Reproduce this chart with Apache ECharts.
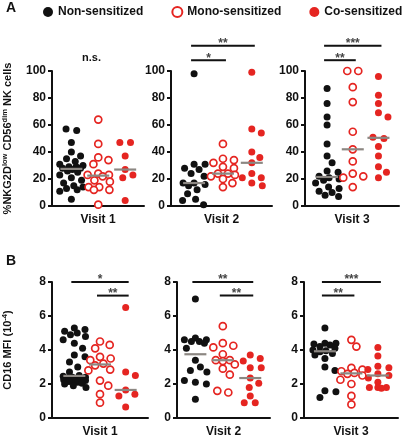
<!DOCTYPE html>
<html><head><meta charset="utf-8">
<script src="https://cdn.jsdelivr.net/npm/echarts@6/dist/echarts.min.js"></script>
<style>html,body{margin:0;padding:0;background:#fff}#c{width:408px;height:440px}</style>
</head><body><div id="c"></div>
<script>
// ---------- data ----------
const visits = ['Visit 1', 'Visit 2', 'Visit 3'];
const groupNames = ['Non-sensitized', 'Mono-sensitized', 'Co-sensitized'];
const ticksA = [0, 20, 40, 60, 80, 100];
const ticksB = [0, 2, 4, 6, 8];

// Panel A: %NKG2D(low) CD56(dim) NK cells, per visit
const nkgNon = [
  [57, 56, 47, 40, 37, 35, 33, 31, 30, 29, 29, 28, 28, 27, 26, 25, 23, 21, 19, 17, 15, 14, 13, 12, 11, 5],
  [98, 31, 31, 28, 27, 24, 22, 17, 17, 16, 15, 12, 9, 5, 4, 1],
  [87, 76, 66, 60, 46, 37, 32, 26, 25, 22, 21, 20, 19, 17, 14, 13, 11, 10, 8, 7]
];
const nkgMono = [
  [64, 46, 36, 34, 31, 24, 23, 23, 22, 19, 18, 14, 14, 12, 12, 1],
  [46, 35, 34, 32, 29, 28, 24, 24, 23, 22, 20, 17, 14],
  [100, 100, 88, 77, 55, 42, 33, 24, 22, 21, 14]
];
const nkgCo = [
  [47, 47, 37, 27, 23, 21, 4],
  [99, 57, 54, 40, 36, 32, 24, 21, 21, 17, 15],
  [96, 82, 76, 69, 66, 51, 50, 44, 37, 29, 25, 21]
];
// Panel B: CD16 MFI (10^-4), per visit
const cd16Non = [
  [5.3, 5.2, 5.1, 5.0, 4.9, 4.8, 4.6, 4.4, 4.1, 3.7, 3.6, 3.3, 3.0, 2.7, 2.5, 2.45, 2.4, 2.4, 2.35, 2.3, 2.3, 2.25, 2.2, 2.2, 2.15, 2.1, 2.05, 2.0, 1.9, 1.8],
  [7.0, 4.7, 4.6, 4.6, 4.5, 4.5, 4.4, 4.1, 3.4, 3.0, 2.8, 2.7, 2.2, 2.1, 2.0, 1.1],
  [5.3, 4.4, 4.4, 4.35, 4.3, 4.2, 4.1, 4.0, 3.95, 3.9, 3.8, 3.7, 3.5, 3.0, 2.8, 1.6, 1.55, 1.2]
];
const cd16Mono = [
  [4.5, 4.3, 4.1, 3.6, 3.5, 3.4, 3.2, 3.1, 2.85, 2.8, 2.2, 1.9, 1.4, 0.9],
  [5.4, 4.4, 4.25, 4.15, 3.75, 3.4, 3.4, 3.35, 3.15, 2.9, 2.55, 1.6, 1.5],
  [4.6, 4.2, 2.95, 2.85, 2.75, 2.65, 2.6, 2.5, 2.25, 2.0, 1.3, 0.8]
];
const cd16Co = [
  [6.5, 2.7, 2.5, 1.65, 1.4, 1.3, 0.65],
  [3.7, 3.5, 3.35, 2.95, 2.95, 2.35, 2.05, 1.8, 1.3, 0.9, 0.9],
  [4.15, 3.65, 3.05, 2.95, 2.85, 2.6, 2.5, 2.35, 2.1, 1.8, 1.8, 1.8, 1.75]
];
// significance brackets: [group from, group to, label]
const sigA = [[], [[0, 1, '*'], [0, 2, '**']], [[0, 1, '**'], [0, 2, '***']]];
const nsA = ['n.s.', '', ''];
const sigB = [[[0, 2, '*'], [1, 2, '**']], [[0, 2, '**'], [1, 2, '**']], [[0, 2, '***'], [0, 1, '**']]];

// ---------- layout / style ----------
const FONT = "'Liberation Sans', Arial, sans-serif";
const RED = '#e52521';
const BLACK = '#111111';
const GRAY = '#8c8782';
const panels = [
  { left: 49, top: 71, width: 95, height: 135, xr: [0.28, 3.7] },
  { left: 171, top: 71, width: 101, height: 135, xr: [0.2, 3.7] },
  { left: 305, top: 71, width: 94, height: 135, xr: [0.14, 3.8] },
  { left: 49, top: 282, width: 99, height: 136, xr: [0.13, 3.87] },
  { left: 177, top: 282, width: 93, height: 136, xr: [0.33, 3.72] },
  { left: 304, top: 282, width: 94, height: 136, xr: [0.21, 3.76] }
];
const rows = [
  { sets: [nkgNon, nkgMono, nkgCo], ticks: ticksA, sig: sigA, levels: [108, 118.7],
    yName: '{a|%NKG2D}{s|low}{a| CD56}{s|dim}{a| NK cells}' },
  { sets: [cd16Non, cd16Mono, cd16Co], ticks: ticksB, sig: sigB, levels: [7.2, 8.0],
    yName: '{a|CD16 MFI (10}{s|-4}{a|)}' }
];

function median(a) {
  const s = a.slice().sort((x, y) => x - y);
  const n = s.length;
  return n % 2 ? s[(n - 1) / 2] : (s[n / 2 - 1] + s[n / 2]) / 2;
}
// deterministic beeswarm offsets (in x data units); elliptical spacing, limited half-width
function swarm(vals, pxPerX, pxPerY, ax, ay, maxOff) {
  const order = vals.map((v, i) => i).sort((a, b) => vals[b] - vals[a]);
  const placed = [];
  for (const i of order) {
    const py = vals[i] * pxPerY;
    let chosen = null, bestD = -1, bestO = 0;
    for (let k = 0; ; k++) {
      const m = Math.ceil(k / 2) * 0.5;
      if (m > maxOff) break;
      const o = (k % 2 === 1) ? m : -m;
      let dmin = Infinity;
      for (const p of placed) dmin = Math.min(dmin, Math.hypot((p.x - o) / ax, (p.y - py) / ay));
      if (dmin >= 1) { chosen = o; break; }
      if (dmin > bestD + 0.05) { bestD = dmin; bestO = o; }
    }
    if (chosen === null) chosen = bestO;
    placed.push({ i: i, x: chosen, y: py });
  }
  // recentre isolated rows of (nearly) equal values
  let s = 0;
  while (s < placed.length) {
    let e = s;
    while (e + 1 < placed.length && placed[e].y - placed[e + 1].y < 2) e++;
    if (e > s) {
      const top = placed[s].y, bot = placed[e].y;
      const crowded = placed.some((p, j) => (j < s || j > e) && p.y < top + ay && p.y > bot - ay);
      if (!crowded) {
        const n = e - s + 1;
        for (let j = s; j <= e; j++) placed[j].x = (j - s - (n - 1) / 2) * ax;
      }
    }
    s = e + 1;
  }
  const offs = new Array(vals.length).fill(0);
  placed.forEach(p => { offs[p.i] = p.x / pxPerX; });
  return offs;
}

const grids = [], xAxes = [], yAxes = [], series = [];
panels.forEach((p, pi) => {
  const r = Math.floor(pi / 3), c = pi % 3;
  const row = rows[r];
  const ticks = row.ticks;
  const yMin = ticks[0], yMax = ticks[ticks.length - 1];
  grids.push({ left: p.left, top: p.top, width: p.width, height: p.height, containLabel: false });
  xAxes.push({
    gridIndex: pi, type: 'value', min: p.xr[0], max: p.xr[1],
    name: visits[c], nameLocation: 'middle', nameGap: 8,
    nameTextStyle: { fontFamily: FONT, fontWeight: 'bold', fontSize: 12, color: BLACK, verticalAlign: 'top' },
    axisLine: { show: true, onZero: false, lineStyle: { color: BLACK, width: 2 } },
    axisTick: { show: false }, axisLabel: { show: false }, splitLine: { show: false }
  });
  yAxes.push({
    gridIndex: pi, type: 'value', min: yMin, max: yMax, interval: ticks[1] - ticks[0],
    name: c === 0 ? row.yName : '', nameLocation: 'middle', nameGap: 37, nameRotate: 90,
    nameTextStyle: {
      rich: {
        a: { fontFamily: FONT, fontWeight: 'bold', fontSize: 11, color: BLACK, lineHeight: 14 },
        s: { fontFamily: FONT, fontWeight: 'bold', fontSize: 7.5, color: BLACK, lineHeight: 14, verticalAlign: 'top' }
      }
    },
    axisLine: { show: true, lineStyle: { color: BLACK, width: 2 } },
    axisTick: { show: true, inside: false, length: 4, lineStyle: { color: BLACK, width: 2 } },
    axisLabel: { margin: 6, fontFamily: FONT, fontWeight: 'bold', fontSize: 12, color: BLACK },
    splitLine: { show: false }
  });
  const pxPerX = p.width / (p.xr[1] - p.xr[0]);
  const pxPerY = p.height / (yMax - yMin);
  const meds = [];
  row.sets.forEach((set, g) => {
    const vals = set[c];
    const offs = swarm(vals, pxPerX, pxPerY, 11, 7.5, 12);
    meds.push([g + 1, median(vals)]);
    const style = g === 0 ? { color: BLACK, opacity: 1 }
      : g === 1 ? { color: '#ffffff', borderColor: RED, borderWidth: 1.7, opacity: 1 }
      : { color: RED, opacity: 1 };
    series.push({
      type: 'scatter', name: groupNames[g], xAxisIndex: pi, yAxisIndex: pi,
      symbol: 'circle', symbolSize: 7, clip: false, itemStyle: style, silent: true,
      data: vals.map((v, i) => [g + 1 + offs[i], v]), z: 2 + g
    });
  });
  series.push({
    type: 'scatter', name: 'median', xAxisIndex: pi, yAxisIndex: pi,
    symbol: 'rect', symbolSize: [22, 2.2], clip: false, silent: true,
    itemStyle: { color: GRAY, opacity: 1 }, data: meds, z: 10
  });
});

const chart = echarts.init(document.getElementById('c'), null, { renderer: 'canvas' });
chart.setOption({
  animation: false,
  backgroundColor: '#ffffff',
  legend: {
    data: groupNames, top: 1, left: 38, itemWidth: 10, itemHeight: 10, itemGap: 28, icon: 'circle',
    selectedMode: false,
    textStyle: { fontFamily: FONT, fontWeight: 'bold', fontSize: 12, color: BLACK }
  },
  grid: grids, xAxis: xAxes, yAxis: yAxes, series: series
});

// panel letters, significance brackets
const gfx = [
  { type: 'text', left: 6, top: 1, style: { text: 'A', font: 'bold 14px ' + FONT, fill: BLACK } },
  { type: 'text', left: 6, top: 254, style: { text: 'B', font: 'bold 14px ' + FONT, fill: BLACK } }
];
panels.forEach((p, pi) => {
  const r = Math.floor(pi / 3), c = pi % 3;
  const row = rows[r];
  if (r === 0 && nsA[c]) {
    const pt = chart.convertToPixel({ gridIndex: pi }, [1.75, 110]);
    gfx.push({ type: 'text', x: pt[0], y: pt[1],
      style: { text: nsA[c], font: 'bold 11px ' + FONT, fill: BLACK, textAlign: 'center', textVerticalAlign: 'middle' } });
  }
  row.sig[c].forEach(s => {
    const level = (s[1] - s[0]) > 1 ? 1 : 0;
    const yv = row.levels[level];
    const a = chart.convertToPixel({ gridIndex: pi }, [s[0] + 1, yv]);
    const b = chart.convertToPixel({ gridIndex: pi }, [s[1] + 1, yv]);
    gfx.push({ type: 'line', shape: { x1: a[0] - 3, y1: a[1], x2: b[0] + 3, y2: b[1] },
      style: { stroke: BLACK, lineWidth: 2 }, silent: true });
    gfx.push({ type: 'text', x: (a[0] + b[0]) / 2, y: a[1] - 2,
      style: { text: s[2], font: 'bold 12px ' + FONT, fill: '#444', textAlign: 'center', textVerticalAlign: 'middle' } });
  });
});
chart.setOption({ graphic: gfx });
</script></body></html>
